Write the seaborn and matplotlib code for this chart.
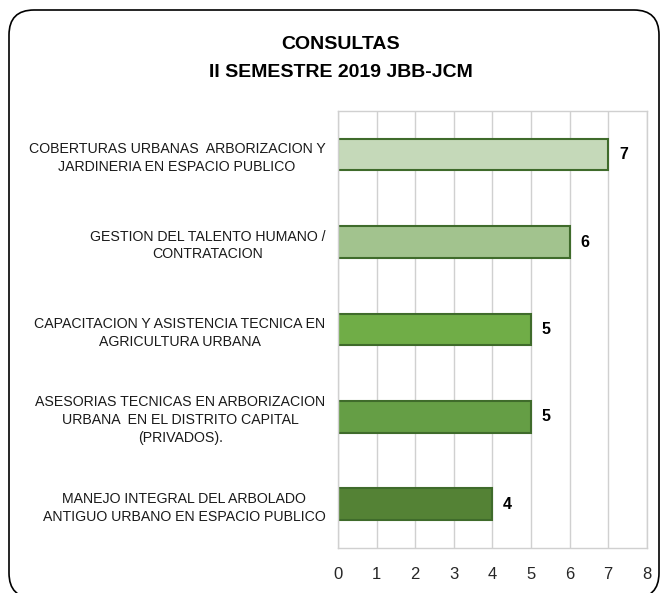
import matplotlib
matplotlib.use("Agg")
import matplotlib.pyplot as plt
import seaborn as sns
import pandas as pd
from matplotlib.patches import FancyBboxPatch

# datos del grafico
categorias = [
    "COBERTURAS URBANAS  ARBORIZACION Y\nJARDINERIA EN ESPACIO PUBLICO",
    "GESTION DEL TALENTO HUMANO /\nCONTRATACION",
    "CAPACITACION Y ASISTENCIA TECNICA EN\nAGRICULTURA URBANA",
    "ASESORIAS TECNICAS EN ARBORIZACION\nURBANA  EN EL DISTRITO CAPITAL\n(PRIVADOS).",
    "MANEJO INTEGRAL DEL ARBOLADO\nANTIGUO URBANO EN ESPACIO PUBLICO",
]
consultas = [7, 6, 5, 5, 4]
colores = ["#C5D9B9", "#A2C38E", "#70AD47", "#659E45", "#548235"]
ticks_x = [0, 1, 2, 3, 4, 5, 6, 7, 8]

df = pd.DataFrame({"categoria": categorias, "consultas": consultas})

sns.set_theme(style="white")
plt.rcParams['font.family'] = ['Liberation Sans Narrow', 'Liberation Sans', 'DejaVu Sans']

fig = plt.figure(figsize=(6.64, 5.93), dpi=100)
ax = fig.add_axes([0.509, 0.076, 0.465, 0.737])

sns.barplot(data=df, x="consultas", y="categoria", hue="categoria",
            palette=colores, legend=False, width=0.36,
            edgecolor="#3F6B2B", linewidth=1.5, saturation=1, ax=ax)

# etiquetas de valor
for i, v in enumerate(consultas):
    ax.text(v + 0.28, i, str(v), va="center", ha="left",
            fontsize=11.5, fontweight="bold", color="black")

ax.set_xlim(0, 8)
ax.set_xticks(ticks_x)
ax.set_xticklabels([str(t) for t in ticks_x], fontsize=12, color="#262626")
ax.tick_params(axis="x", length=0, pad=14)
ax.tick_params(axis="y", length=0, pad=9, labelsize=10.2, colors="#1a1a1a")
for lab in ax.get_yticklabels():
    lab.set_multialignment("center")
    lab.set_linespacing(1.35)
ax.xaxis.grid(True, color="#D0D0D0", linewidth=1)
ax.set_axisbelow(True)
for s in ax.spines.values():
    s.set_color("#D0D0D0")
    s.set_linewidth(1)
ax.set_xlabel("")
ax.set_ylabel("")

fig.text(0.513, 0.925, "CONSULTAS", ha="center", va="center",
         fontsize=14, fontweight="bold", color="black")
fig.text(0.513, 0.877, "II SEMESTRE 2019 JBB-JCM", ha="center", va="center",
         fontsize=14, fontweight="bold", color="black")

# marco redondeado
marco = FancyBboxPatch((0.09, -0.05), 6.5, 5.88,
                       boxstyle="round,pad=0,rounding_size=0.25",
                       transform=fig.dpi_scale_trans, fill=False,
                       edgecolor="black", linewidth=1.2)
fig.patches.append(marco)

fig.savefig("out.png", dpi=100)
